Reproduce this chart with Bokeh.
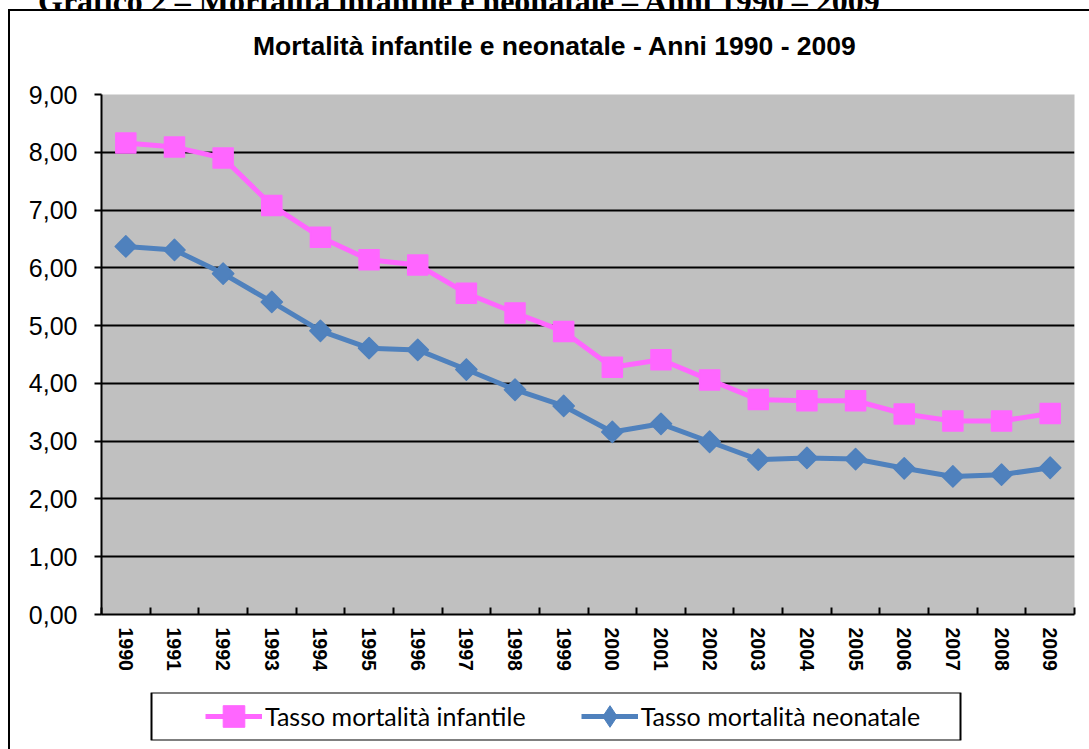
from math import pi

from bokeh.plotting import figure
from bokeh.models import (Range1d, FixedTicker, Legend, LegendItem, Div,
                          BoxAnnotation)
from bokeh.layouts import row, column
from bokeh.embed import file_html
from bokeh.resources import INLINE

# ---------------- data ----------------
years = list(range(1990, 2010))
infantile = [8.16, 8.09, 7.90, 7.08, 6.53, 6.14, 6.05, 5.56, 5.22, 4.90,
             4.28, 4.41, 4.06, 3.72, 3.70, 3.70, 3.47, 3.35, 3.35, 3.48]
neonatale = [6.37, 6.31, 5.90, 5.41, 4.91, 4.61, 4.58, 4.24, 3.89, 3.61,
             3.16, 3.30, 2.99, 2.68, 2.71, 2.69, 2.53, 2.39, 2.42, 2.54]
y_ticks = [0, 1, 2, 3, 4, 5, 6, 7, 8, 9]
y_tick_labels = ["0,00", "1,00", "2,00", "3,00", "4,00",
                 "5,00", "6,00", "7,00", "8,00", "9,00"]
series_names = ["Tasso mortalità infantile", "Tasso mortalità neonatale"]
chart_title = "Mortalità infantile e neonatale - Anni 1990 - 2009"
page_header = "Grafico 2 – Mortalità infantile e neonatale – Anni 1990 – 2009"

PINK = "#FF66FF"
BLUE = "#4F81BD"
FONT = "Liberation Sans"

# ---------------- main chart ----------------
p = figure(width=1079, height=607,
           x_range=Range1d(years[0] - 0.5, years[-1] + 0.5),
           y_range=Range1d(y_ticks[0], y_ticks[-1]),
           output_backend="svg", toolbar_location=None,
           min_border_left=91, min_border_right=15,
           min_border_top=23, min_border_bottom=64,
           background_fill_color="#C0C0C0", border_fill_color="white",
           outline_line_color=None)

boundaries = [y - 0.5 for y in years] + [years[-1] + 0.5]
p.xaxis.ticker = FixedTicker(ticks=years, minor_ticks=boundaries)
p.xaxis.major_label_orientation = "vertical"
p.xaxis.major_label_text_font = FONT
p.xaxis.major_label_text_font_style = "bold"
p.xaxis.major_label_text_font_size = "19.5px"
p.xaxis.major_label_text_color = "black"
p.xaxis.major_label_standoff = 7
p.xaxis.major_tick_line_color = None
p.xaxis.minor_tick_in = 7
p.xaxis.minor_tick_out = 0
p.xaxis.minor_tick_line_width = 2
p.xaxis.minor_tick_line_color = "black"
p.xaxis.axis_line_width = 2
p.xaxis.axis_line_color = "black"

p.yaxis.ticker = FixedTicker(ticks=y_ticks, minor_ticks=[])
p.yaxis.major_label_overrides = dict(zip(y_ticks, y_tick_labels))
p.yaxis.major_label_text_font = FONT
p.yaxis.major_label_text_font_size = "25px"
p.yaxis.major_label_text_color = "black"
p.yaxis.major_label_standoff = 17
p.yaxis.major_tick_in = 0
p.yaxis.major_tick_out = 7
p.yaxis.major_tick_line_width = 2
p.yaxis.major_tick_line_color = "black"
p.yaxis.axis_line_width = 2
p.yaxis.axis_line_color = "black"

p.xgrid.visible = False
p.ygrid.grid_line_color = "black"
p.ygrid.grid_line_width = 2

p.line(years, infantile, line_color=PINK, line_width=5)
p.scatter(years, infantile, marker="square", size=20, fill_color=PINK,
          line_color=PINK, line_width=1.5, line_join="round")
p.line(years, neonatale, line_color=BLUE, line_width=5)
p.scatter(years, neonatale, marker="square", angle=pi / 4, size=15,
          fill_color=BLUE, line_color=BLUE, line_width=1.5, line_join="round")

# ---------------- legend strip ----------------
p2 = figure(width=1079, height=71, x_range=Range1d(0, 1), y_range=Range1d(0, 1),
            output_backend="svg", toolbar_location=None,
            min_border_left=91, min_border_right=15,
            min_border_top=14, min_border_bottom=9,
            background_fill_color="white", border_fill_color="white",
            outline_line_color=None,
            x_axis_location=None, y_axis_location=None)
p2.grid.visible = False

# legend samples: same series, lying outside this strip's visible ranges
r1 = p2.line(years, infantile, line_color=PINK, line_width=5)
r2 = p2.scatter(years, infantile, marker="square", size=20, fill_color=PINK,
                line_color=PINK, line_join="round")
r3 = p2.line(years, neonatale, line_color=BLUE, line_width=5)
r4 = p2.scatter(years, neonatale, marker="diamond", size=20, fill_color=BLUE,
                line_color=BLUE, line_join="round")

legend_box = BoxAnnotation(left=50, right=859, left_units="screen",
                           right_units="screen", fill_color=None,
                           fill_alpha=0, line_color="black", line_alpha=1.0,
                           line_width=2)
p2.add_layout(legend_box)

legend = Legend(items=[LegendItem(label=series_names[0], renderers=[r1, r2]),
                       LegendItem(label=series_names[1], renderers=[r3, r4])],
                orientation="horizontal", location=(104, -3),
                padding=0, margin=0, spacing=55,
                glyph_width=57, glyph_height=54, label_standoff=3,
                label_text_font="Lato", label_text_font_size="25px",
                label_text_color="black",
                border_line_color=None, background_fill_alpha=0)
p2.add_layout(legend)

# ---------------- chart title ----------------
title_div = Div(text=('<div style="font-family: \'Liberation Sans\'; font-weight: bold; '
                      'font-size: 26.5px; line-height: 30px; white-space: nowrap; '
                      'padding-top: 20px; padding-left: 243px; color: black;">'
                      + chart_title + '</div>'),
                width=1079, height=60, margin=0)

# ---------------- page header (cut off at top) and chart border ----------------
header = Div(text=('<div style="font-family: \'Liberation Serif\'; font-weight: bold; '
                   'font-size: 32px; line-height: 32px; white-space: nowrap; '
                   'margin-top: -23px; padding-left: 38px; color: black;">'
                   + page_header + '</div>'),
             width=1089, height=9, margin=0, styles={"overflow": "hidden"})
gap = Div(text="", width=8, height=740, margin=0)
vline = Div(text="", width=2, height=740, margin=0,
            styles={"background-color": "black"})
hline = Div(text="", width=1079, height=2, margin=0,
            styles={"background-color": "black"})

layout = column(header,
                row(gap, vline,
                    column(hline, title_div, p, p2, spacing=0), spacing=0),
                spacing=0)

with open("out.html", "w", encoding="utf-8") as f:
    f.write(file_html(layout, INLINE))
